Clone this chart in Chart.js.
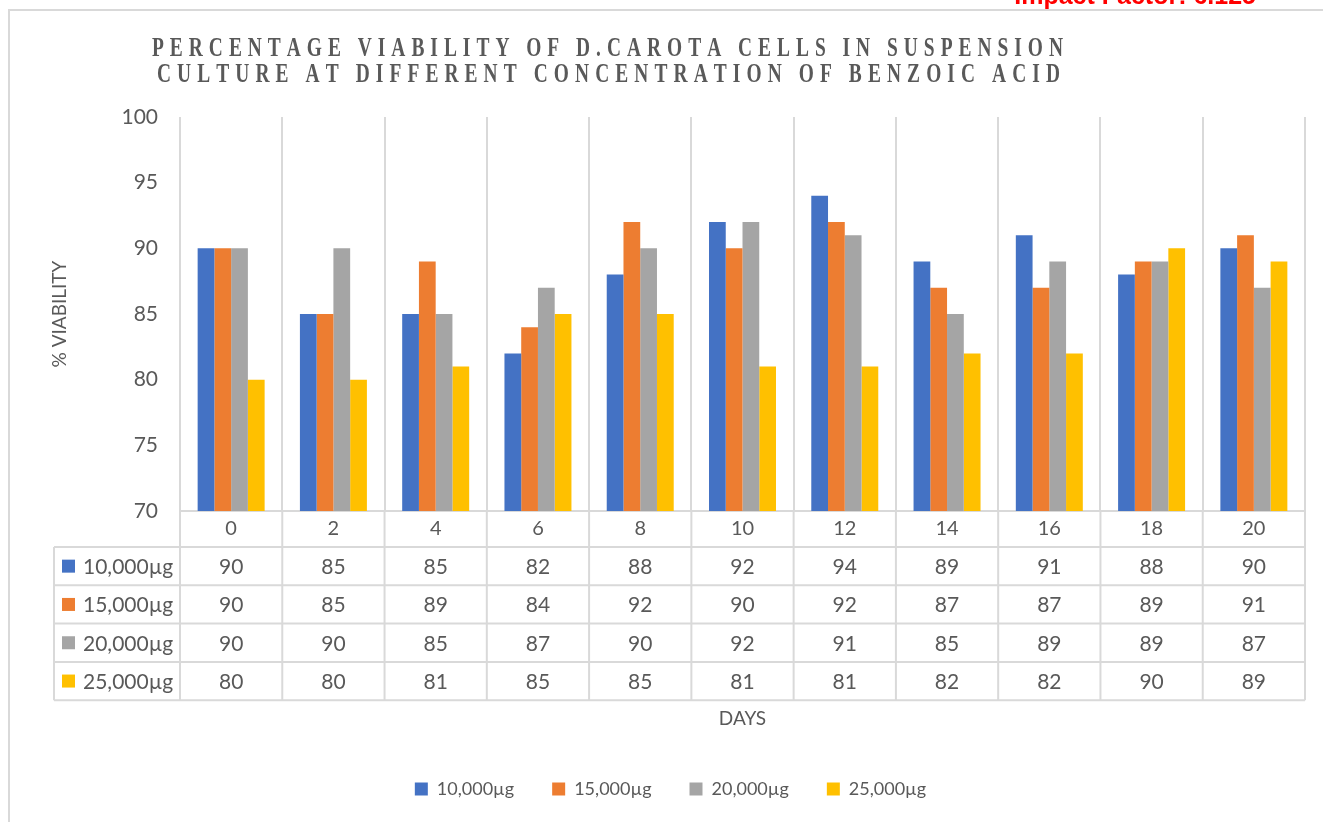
<!DOCTYPE html>
<html>
<head>
<meta charset="utf-8">
<script src="https://cdn.jsdelivr.net/npm/chart.js@4.4.1/dist/chart.umd.min.js"></script>
<style>
  html, body { margin: 0; padding: 0; background: #ffffff; }
  #wrap { width: 1323px; height: 822px; position: relative; }
</style>
</head>
<body>
<div id="wrap"><canvas id="chart"></canvas></div>
<script>
// Culture days (x categories)
const days = ['0', '2', '4', '6', '8', '10', '12', '14', '16', '18', '20'];

// % viability for each benzoic acid concentration
const viability10000 = [90, 85, 85, 82, 88, 92, 94, 89, 91, 88, 90];
const viability15000 = [90, 85, 89, 84, 92, 90, 92, 87, 87, 89, 91];
const viability20000 = [90, 90, 85, 87, 90, 92, 91, 85, 89, 89, 87];
const viability25000 = [80, 80, 81, 85, 85, 81, 81, 82, 82, 90, 89];

const seriesNames = ['10,000µg', '15,000µg', '20,000µg', '25,000µg'];
const seriesColors = ['#4472C4', '#ED7D31', '#A5A5A5', '#FFC000'];
const seriesValues = [viability10000, viability15000, viability20000, viability25000];

// Value axis range
const yMin = 70;
const yMax = 100;
const yStep = 5;

const titleLines = [
  'PERCENTAGE VIABILITY OF D.CAROTA CELLS IN SUSPENSION',
  'CULTURE AT DIFFERENT CONCENTRATION OF BENZOIC ACID'
];
const headerNote = 'Impact Factor: 6.125';

const TEXT = '#595959';
const GRID = '#d9d9d9';
const UI_FONT = 'Lato';

// Letter-spaced, condensed serif heading
function drawSpacedLine(ctx, text, cx, baseline, targetWidth, squeeze) {
  const chars = Array.from(text);
  const widths = chars.map(ch => ctx.measureText(ch).width * squeeze);
  const natural = widths.reduce((a, b) => a + b, 0);
  const gap = (targetWidth - natural) / (chars.length - 1);
  let x = cx - targetWidth / 2;
  chars.forEach((ch, i) => {
    ctx.save();
    ctx.translate(x, baseline);
    ctx.scale(squeeze, 1);
    ctx.fillText(ch, 0, 0);
    ctx.restore();
    x += widths[i] + gap;
  });
}

const framePlugin = {
  id: 'frame',
  afterLayout(chart) {
    // centre the legend row under the whole frame
    chart.legend.left += 26;
  },
  beforeDraw(chart) {
    const ctx = chart.ctx;
    ctx.save();
    ctx.fillStyle = '#ffffff';
    ctx.fillRect(0, 0, chart.width, chart.height);

    // outer chart border
    ctx.strokeStyle = GRID;
    ctx.lineWidth = 2;
    ctx.beginPath();
    ctx.moveTo(9, chart.height + 2);
    ctx.lineTo(9, 10);
    ctx.lineTo(chart.width + 2, 10);
    ctx.stroke();

    // page header running above the chart
    ctx.fillStyle = '#ff0000';
    ctx.font = 'bold 25px "Liberation Sans"';
    ctx.textAlign = 'right';
    ctx.textBaseline = 'alphabetic';
    ctx.fillText(headerNote, 1256, 4);

    // chart title
    ctx.fillStyle = TEXT;
    ctx.font = 'bold 27px "Liberation Serif"';
    ctx.textAlign = 'left';
    drawSpacedLine(ctx, titleLines[0], 607.5, 56, 911, 0.72);
    drawSpacedLine(ctx, titleLines[1], 608.5, 82, 903, 0.72);
    ctx.restore();
  }
};

// Data table under the category axis
const tablePlugin = {
  id: 'dataTable',
  afterDraw(chart) {
    const ctx = chart.ctx;
    const x = chart.scales.x;
    const area = chart.chartArea;
    const rowTop = area.bottom + 36;
    const rowH = 38.3;
    const left = 54;
    const right = area.right;
    const n = seriesValues.length;
    const half = (x.getPixelForValue(1) - x.getPixelForValue(0)) / 2;

    ctx.save();
    ctx.strokeStyle = GRID;
    ctx.lineWidth = 2;
    ctx.beginPath();
    for (let r = 0; r <= n; r++) {
      const y = rowTop + r * rowH;
      ctx.moveTo(left, y);
      ctx.lineTo(right, y);
    }
    ctx.moveTo(left, rowTop);
    ctx.lineTo(left, rowTop + n * rowH);
    for (let i = 0; i <= days.length; i++) {
      const gx = i < days.length ? x.getPixelForValue(i) - half : right;
      ctx.moveTo(gx, area.bottom);
      ctx.lineTo(gx, rowTop + n * rowH);
    }
    ctx.stroke();

    ctx.font = '21px ' + UI_FONT;
    ctx.textBaseline = 'middle';
    seriesValues.forEach((vals, r) => {
      const cy = rowTop + r * rowH + rowH / 2;
      ctx.fillStyle = seriesColors[r];
      ctx.fillRect(62, cy - 6.5, 13, 13);
      ctx.fillStyle = TEXT;
      ctx.textAlign = 'left';
      ctx.fillText(seriesNames[r], 83, cy + 1);
      ctx.textAlign = 'center';
      vals.forEach((v, i) => {
        ctx.fillText(String(v), x.getPixelForValue(i), cy + 1);
      });
    });
    ctx.restore();
  }
};

const ctx = document.getElementById('chart').getContext('2d');
new Chart(ctx, {
  type: 'bar',
  data: {
    labels: days,
    datasets: seriesValues.map((vals, i) => ({
      label: seriesNames[i],
      data: vals,
      backgroundColor: seriesColors[i],
      borderWidth: 0,
      categoryPercentage: 0.655,
      barPercentage: 1.0
    }))
  },
  options: {
    responsive: true,
    maintainAspectRatio: false,
    animation: false,
    events: [],
    layout: { padding: { top: 117, left: 10, right: 18, bottom: 14 } },
    plugins: {
      title: { display: false },
      tooltip: { enabled: false },
      legend: {
        position: 'bottom',
        labels: {
          color: TEXT,
          font: { family: UI_FONT, size: 18 },
          boxWidth: 13,
          boxHeight: 13,
          padding: 38
        }
      }
    },
    scales: {
      x: {
        grid: { display: true, offset: true, color: GRID, lineWidth: 2, drawTicks: false },
        border: { display: true, color: GRID, width: 2 },
        ticks: { color: TEXT, font: { family: UI_FONT, size: 20 }, padding: 6, maxRotation: 0 },
        title: {
          display: true,
          text: 'DAYS',
          color: TEXT,
          font: { family: UI_FONT, size: 19 },
          padding: { top: 0, bottom: 12 }
        },
        afterFit(scale) { scale.height = 231; }
      },
      y: {
        min: yMin,
        max: yMax,
        grid: { display: false, drawTicks: false },
        border: { display: false },
        ticks: { stepSize: yStep, color: TEXT, font: { family: UI_FONT, size: 21 }, padding: 22 },
        title: {
          display: true,
          text: '% VIABILITY',
          color: TEXT,
          font: { family: UI_FONT, size: 19 },
          padding: { top: 38, bottom: 0 }
        },
        afterFit(scale) { scale.width = 170; }
      }
    }
  },
  plugins: [framePlugin, tablePlugin]
});
</script>
</body>
</html>
